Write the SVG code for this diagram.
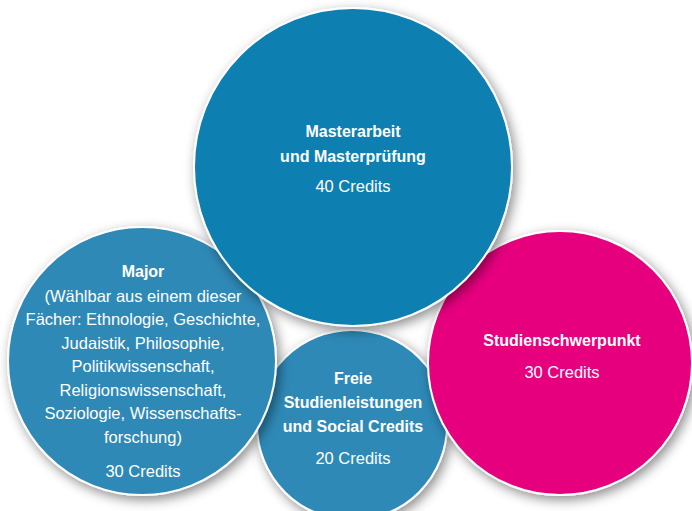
<svg xmlns="http://www.w3.org/2000/svg" width="692" height="511" viewBox="0 0 692 511">
<defs>
<filter id="sh" x="-20%" y="-20%" width="140%" height="140%">
<feDropShadow dx="3" dy="4" stdDeviation="6" flood-color="#000" flood-opacity="0.45"/>
</filter>
<style>
.c{stroke:#fff;stroke-width:2;filter:url(#sh)}
.t{font-family:"Liberation Sans",Arial,sans-serif;fill:#fff;text-anchor:middle;font-size:16.5px}
.b{font-weight:bold;font-size:16px}
.cr{font-size:16.5px}
</style>
</defs>
<rect width="692" height="511" fill="#fff"/>
<g id="freie">
<circle class="c" cx="352" cy="425" r="95" fill="#2f89b7"/>
<text class="t b" x="353" y="384">Freie</text>
<text class="t b" x="353" y="408">Studienleistungen</text>
<text class="t b" x="353" y="432">und Social Credits</text>
<text class="t cr" x="353" y="464">20 Credits</text>
</g>
<g id="major">
<circle class="c" cx="142" cy="361" r="134" fill="#2f89b7"/>
<text class="t b" x="143" y="277">Major</text>
<text class="t" x="143" y="302">(Wählbar aus einem dieser</text>
<text class="t" x="143" y="325">Fächer: Ethnologie, Geschichte,</text>
<text class="t" x="143" y="349">Judaistik, Philosophie,</text>
<text class="t" x="143" y="372">Politikwissenschaft,</text>
<text class="t" x="143" y="396">Religionswissenschaft,</text>
<text class="t" x="143" y="419">Soziologie, Wissenschafts-</text>
<text class="t" x="143" y="443">forschung)</text>
<text class="t cr" x="143" y="477">30 Credits</text>
</g>
<g id="schwerpunkt">
<circle class="c" cx="560" cy="363" r="132" fill="#e6007e"/>
<text class="t b" x="562" y="346">Studienschwerpunkt</text>
<text class="t cr" x="562" y="378">30 Credits</text>
</g>
<g id="master">
<circle class="c" cx="353" cy="167" r="159" fill="#0a7fb1"/>
<text class="t b" x="353" y="137">Masterarbeit</text>
<text class="t b" x="353" y="162">und Masterprüfung</text>
<text class="t cr" x="353" y="192">40 Credits</text>
</g>
<g id="connectors"/>
</svg>
